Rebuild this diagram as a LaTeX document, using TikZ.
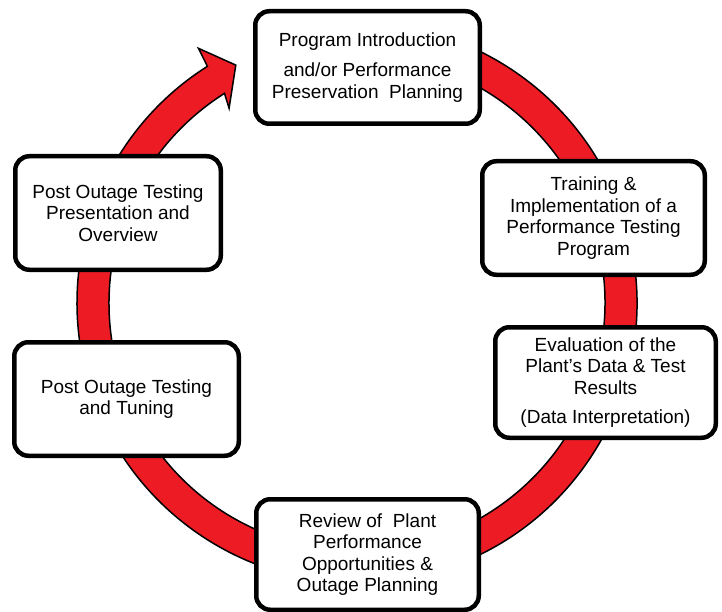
\documentclass[tikz,border=0pt]{standalone}
\usepackage{fontspec}
\setmainfont{Liberation Sans}
\usetikzlibrary{calc}
\definecolor{ringred}{RGB}{237,28,36}
\begin{document}
\begin{tikzpicture}[x=1pt,y=1pt,
  stagebox/.style={draw=black, fill=white, line width=4.5pt, rounded corners=14pt,
    align=center, inner sep=2pt, font=\fontsize{19}{21.5}\selectfont},
  ringshape/.style={fill=ringred, draw=black, line width=1.5pt, line join=miter}]
\useasboundingbox (0,0) rectangle (722,-612);
\coordinate (C) at (357,-303);
% ring arrow
\path[ringshape] ($(C)+(100:280pt)$) arc[start angle=100, end angle=-237.7, radius=280pt]
  -- ($(C)+(-238.1:300pt)$) -- ($(C)+(-243:267pt)$) -- ($(C)+(-236.7:233pt)$)
  -- ($(C)+(-237.7:248pt)$) arc[start angle=-237.7, end angle=100, radius=248pt] -- cycle;
% boxes
\node[stagebox, minimum width=224.5pt, minimum height=112.5pt] (b1) at (367.5,-67.5)
  {Program Introduction\\[9pt] and/or Performance\\ Preservation\ \ Planning};
\node[stagebox, minimum width=222.5pt, minimum height=113.5pt] (b2) at (593.5,-218)
  {Training \&\\ Implementation of a\\ Performance Testing\\ Program};
\node[stagebox, minimum width=220.5pt, minimum height=110.5pt] (b3) at (605.5,-382.5)
  {Evaluation of the\\ Plant's Data \& Test\\ Results\\[8pt] (Data Interpretation)};
\node[stagebox, minimum width=222.5pt, minimum height=110.5pt] (b4) at (367.5,-554.5)
  {Review of\ \ Plant\\ Performance\\ Opportunities \&\\ Outage Planning};
\node[stagebox, minimum width=205.5pt, minimum height=113.5pt] (b5) at (118,-213)
  {Post Outage Testing\\ Presentation and\\ Overview};
\node[stagebox, minimum width=224.5pt, minimum height=113.5pt] (b6) at (126.5,-399)
  {Post Outage Testing\\ and Tuning};
\end{tikzpicture}
\end{document}
